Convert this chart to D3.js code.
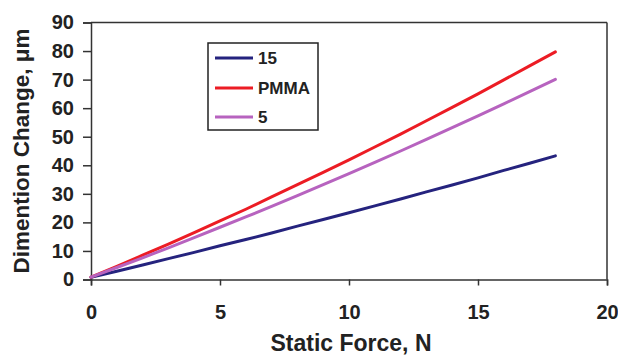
<!DOCTYPE html>
<html><head><meta charset="utf-8">
<script src="https://cdn.jsdelivr.net/npm/d3@7"></script>
<style>body{margin:0;background:#fff}svg{display:block}text{font-family:Arial,"Liberation Sans",sans-serif}</style>
</head><body><svg id="c" width="618" height="356"></svg>
<script>
const force = [0,1,2,3,4,5,6,7,8,9,10,11,12,13,14,15,16,17,18];
const s15   = [0.8,2.9,5.1,7.3,9.5,11.8,14.0,16.3,18.7,21.0,23.4,25.8,28.2,30.7,33.1,35.6,38.2,40.7,43.3];
const sPMMA = [0.8,4.6,8.5,12.4,16.4,20.5,24.6,28.9,33.2,37.5,41.9,46.4,50.9,55.6,60.3,65.0,69.9,74.8,79.7];
const s5    = [0.8,4.2,7.6,11.1,14.7,18.3,21.9,25.6,29.4,33.2,37.1,41.0,45.0,49.1,53.2,57.3,61.5,65.8,70.1];
const seriesNames = ["15","PMMA","5"];
const seriesColors = ["#25237e","#ec1c24","#b763bf"];
const xTicks = [0,5,10,15,20];
const yTicks = [0,10,20,30,40,50,60,70,80,90];

const svg = d3.select("#c");
const L = 91, R = 607, T = 22.5, B = 279.5;
const x = d3.scaleLinear().domain([0,20]).range([L,R]);
const y = d3.scaleLinear().domain([0,90]).range([B,T]);
const axisColor = "#333";

// frame top/right
svg.append("line").attr("x1",L).attr("x2",R).attr("y1",T).attr("y2",T).attr("stroke",axisColor).attr("stroke-width",1.5);
svg.append("line").attr("x1",R).attr("x2",R).attr("y1",T).attr("y2",B).attr("stroke",axisColor).attr("stroke-width",1.5);

const gx = svg.append("g").attr("transform",`translate(0,${B})`)
  .call(d3.axisBottom(x).tickValues(xTicks).tickSize(6).tickPadding(19).tickFormat(d3.format("d")));
const gy = svg.append("g").attr("transform",`translate(${L},0)`)
  .call(d3.axisLeft(y).tickValues(yTicks).tickSize(8).tickPadding(9).tickFormat(d3.format("d")));
[gx,gy].forEach(g=>{
  g.select(".domain").attr("stroke",axisColor).attr("stroke-width",1.5);
  g.selectAll(".tick line").attr("stroke",axisColor).attr("stroke-width",1.5);
  g.selectAll(".tick text").attr("fill","#222").style("font-size","20px").style("font-weight","bold").style("font-family","Arial, 'Liberation Sans', sans-serif");
});

const data = [s15, sPMMA, s5];
const line = d3.line().x((d,i)=>x(force[i])).y(d=>y(d));
data.forEach((s,k)=>{
  svg.append("path").datum(s).attr("d",line).attr("fill","none")
    .attr("stroke",seriesColors[k]).attr("stroke-width",3).attr("stroke-linecap","round");
});

// legend
const lg = svg.append("g");
lg.append("rect").attr("x",208).attr("y",43).attr("width",110).attr("height",87)
  .attr("fill","#fff").attr("stroke","#222").attr("stroke-width",1.5);
const rowY = [58, 88, 117];
seriesNames.forEach((n,k)=>{
  lg.append("line").attr("x1",215).attr("x2",253).attr("y1",rowY[k]).attr("y2",rowY[k])
    .attr("stroke",seriesColors[k]).attr("stroke-width",3);
  lg.append("text").attr("x",258).attr("y",rowY[k]).attr("dy","0.36em").text(n)
    .style("font-size","17px").style("font-weight","bold").attr("fill","#222");
});

svg.append("text").attr("x",351).attr("y",351).attr("text-anchor","middle")
  .style("font-size","23px").style("font-weight","bold").attr("fill","#222").text("Static Force, N");
svg.append("text").attr("transform",`translate(29,${(T+B)/2}) rotate(-90)`).attr("text-anchor","middle")
  .style("font-size","22.5px").attr("fill","#222").style("font-weight","bold").text("Dimention Change, μm");
</script></body></html>
